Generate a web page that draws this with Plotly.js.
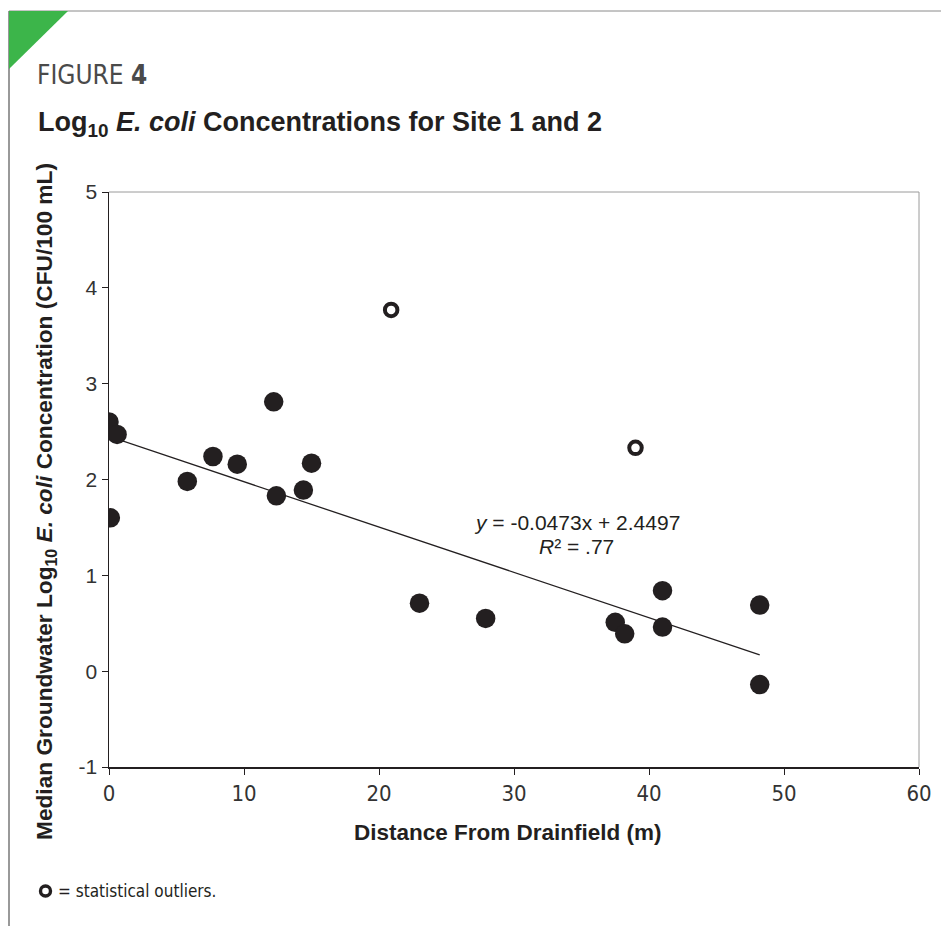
<!DOCTYPE html>
<html>
<head>
<meta charset="utf-8">
<script src="https://cdn.plot.ly/plotly-3.0.1.min.js"></script>
<style>html,body{margin:0;padding:0;background:#fff;}#chart{width:941px;height:926px;}</style>
</head>
<body>
<div id="chart"></div>
<script>
// Data
const distance = [0, 0.6, 0.1, 5.8, 7.7, 9.5, 12.2, 12.4, 14.4, 15.0, 23.0, 27.9, 37.5, 38.2, 41.0, 41.0, 48.2, 48.2];
const logEcoli = [2.60, 2.47, 1.60, 1.98, 2.24, 2.16, 2.81, 1.83, 1.89, 2.17, 0.71, 0.55, 0.51, 0.39, 0.84, 0.46, 0.69, -0.14];
const outlierDistance = [20.9, 39.0];
const outlierLogEcoli = [3.77, 2.33];
const trendSlope = -0.0473;
const trendIntercept = 2.4497;
const trendRange = [0, 48.2];
const xTicks = [0, 10, 20, 30, 40, 50, 60];
const yTicks = [-1, 0, 1, 2, 3, 4, 5];

const W = 941, H = 926;
const L = 109, R = 919, T = 192, B = 767;
const px = v => (v - L) / (R - L);
const py = v => (B - v) / (B - T);

const ink = '#231f20';

const traces = [
  {
    x: trendRange,
    y: trendRange.map(d => trendIntercept + trendSlope * d),
    mode: 'lines',
    line: {color: ink, width: 1.3},
    hoverinfo: 'skip'
  },
  {
    x: distance, y: logEcoli,
    mode: 'markers',
    marker: {size: 19.5, color: ink, line: {width: 0}}
  },
  {
    x: outlierDistance, y: outlierLogEcoli,
    mode: 'markers',
    marker: {size: 12.5, color: '#ffffff', line: {width: 4, color: ink}}
  }
];

const narrow = '"DejaVu Sans Condensed", "Liberation Sans Narrow", "Arial Narrow", "Liberation Sans", Arial, sans-serif';
const sans = '"Liberation Sans", Arial, Helvetica, sans-serif';

const layout = {
  width: W, height: H,
  margin: {l: L, r: W - R, t: T, b: H - B, pad: 0},
  paper_bgcolor: '#ffffff',
  plot_bgcolor: '#ffffff',
  showlegend: false,
  xaxis: {
    range: [0, 60], tickvals: xTicks, ticktext: xTicks.map(String),
    showgrid: false, zeroline: false,
    showline: true, linecolor: ink, linewidth: 2,
    ticks: 'outside', ticklen: 6, tickcolor: ink, tickwidth: 1,
    tickfont: {family: narrow, size: 22, color: '#333'},
    fixedrange: true
  },
  yaxis: {
    range: [-1, 5], tickvals: yTicks, ticktext: yTicks.map(String),
    showgrid: false, zeroline: false,
    showline: true, linecolor: ink, linewidth: 1.5,
    ticks: 'outside', ticklen: 6, tickcolor: ink, tickwidth: 1,
    tickfont: {family: sans, size: 21, color: '#333'},
    fixedrange: true
  },
  shapes: [
    // page frame
    {type: 'line', xref: 'paper', yref: 'paper', x0: px(9), x1: px(941), y0: py(11), y1: py(11), line: {color: '#8a8a8a', width: 1}},
    {type: 'line', xref: 'paper', yref: 'paper', x0: px(9), x1: px(9), y0: py(11), y1: py(926), line: {color: '#555555', width: 1.2}},
    {type: 'path', xref: 'paper', yref: 'paper',
     path: `M ${px(9)} ${py(11)} L ${px(68)} ${py(11)} L ${px(9)} ${py(69)} Z`,
     fillcolor: '#3cb54a', line: {width: 0}},
    // plot box top & right
    {type: 'line', xref: 'paper', yref: 'paper', x0: 0, x1: 1, y0: 1, y1: 1, line: {color: '#9a9a9a', width: 1}},
    {type: 'line', xref: 'paper', yref: 'paper', x0: 1, x1: 1, y0: 0, y1: 1, line: {color: '#9a9a9a', width: 1}},
    // outlier key symbol
    {type: 'circle', xref: 'paper', yref: 'paper', x0: px(40.5), x1: px(50.5), y0: py(886), y1: py(896), line: {color: ink, width: 3.4}, fillcolor: '#ffffff'}
  ],
  annotations: [
    {xref: 'paper', yref: 'paper', x: px(35), y: py(75), xanchor: 'left', yanchor: 'middle', showarrow: false,
     text: 'FIGURE <b>4</b>', font: {family: narrow, size: 26, color: '#4a4a4a'}},
    {xref: 'paper', yref: 'paper', x: px(36), y: py(124), xanchor: 'left', yanchor: 'middle', showarrow: false,
     text: '<b>Log<sub>10</sub> <i>E. coli</i> Concentrations for Site 1 and 2</b>', font: {family: sans, size: 27, color: ink}},
    {xref: 'paper', yref: 'paper', x: px(45), y: py(502), xanchor: 'center', yanchor: 'middle', showarrow: false, textangle: -90,
     text: '<b>Median Groundwater Log<sub>10</sub> <i>E. coli</i> Concentration (CFU/100 mL)</b>', font: {family: sans, size: 22.7, color: ink}},
    {xref: 'paper', yref: 'paper', x: px(508), y: py(832), xanchor: 'center', yanchor: 'middle', showarrow: false,
     text: '<b>Distance From Drainfield (m)</b>', font: {family: sans, size: 22.5, color: ink}},
    {xref: 'paper', yref: 'paper', x: px(577), y: py(522), xanchor: 'center', yanchor: 'middle', showarrow: false,
     text: '<i>y</i> = -0.0473x + 2.4497', font: {family: sans, size: 21, color: ink}},
    {xref: 'paper', yref: 'paper', x: px(576), y: py(546), xanchor: 'center', yanchor: 'middle', showarrow: false,
     text: '<i>R</i>² = .77', font: {family: sans, size: 21, color: ink}},
    {xref: 'paper', yref: 'paper', x: px(56), y: py(891), xanchor: 'left', yanchor: 'middle', showarrow: false,
     text: '= statistical outliers.', font: {family: narrow, size: 17, color: ink}}
  ]
};

Plotly.newPlot('chart', traces, layout, {displayModeBar: false, staticPlot: true});
</script>
</body>
</html>
